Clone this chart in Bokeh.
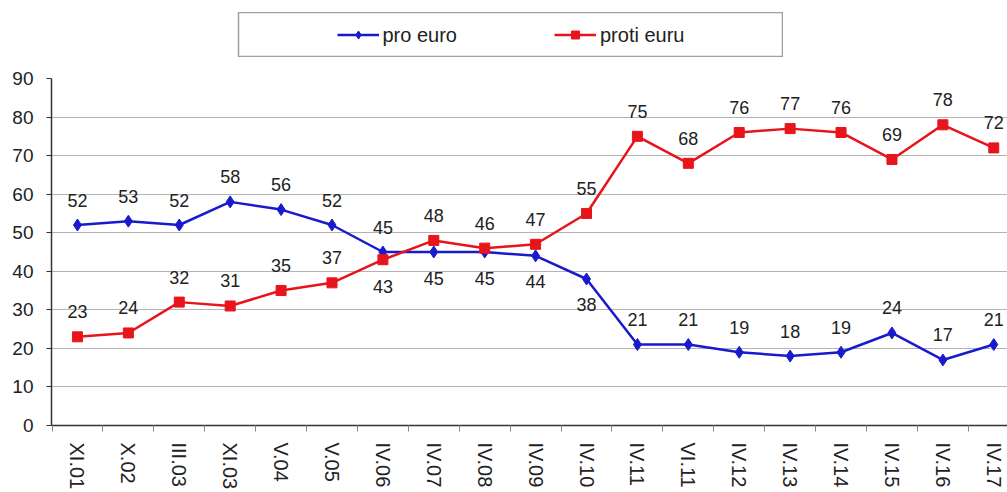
from bokeh.plotting import figure
from bokeh.layouts import column
from bokeh.models import (Range1d, FixedTicker, Legend, LegendItem, ColumnDataSource)
from bokeh.core.properties import value
from bokeh.embed import file_html
from bokeh.resources import INLINE

categories = ["XI.01", "X.02", "III.03", "XI.03", "V.04", "V.05", "IV.06", "IV.07",
              "IV.08", "IV.09", "IV.10", "IV.11", "VI.11", "IV.12", "IV.13", "IV.14",
              "IV.15", "IV.16", "IV.17"]
pro_euro = [52, 53, 52, 58, 56, 52, 45, 45, 45, 44, 38, 21, 21, 19, 18, 19, 24, 17, 21]
proti_euru = [23, 24, 32, 31, 35, 37, 43, 48, 46, 47, 55, 75, 68, 76, 77, 76, 69, 78, 72]
y_ticks = [0, 10, 20, 30, 40, 50, 60, 70, 80, 90]
series_names = ["pro euro", "proti euru"]

BLUE = "#1a1acd"
RED = "#e8141c"
FONT = "Liberation Sans"

xs = list(range(len(categories)))
blue_below = {7, 8, 9, 10}
red_below = {6}

src_b = ColumnDataSource(dict(
    x=xs, y=pro_euro, t=[str(v) for v in pro_euro],
    off=[26 if i in blue_below else -25 for i in xs]))
src_r = ColumnDataSource(dict(
    x=xs, y=proti_euru, t=[str(v) for v in proti_euru],
    off=[27 if i in red_below else -25 for i in xs]))

p = figure(width=1007, height=427, output_backend="svg", toolbar_location=None,
           x_range=Range1d(-0.51, 18.27), y_range=Range1d(0, 90),
           min_border_left=51, min_border_right=0, min_border_top=13,
           min_border_bottom=65)
p.outline_line_color = None
p.xgrid.visible = False
p.ygrid.ticker = FixedTicker(ticks=y_ticks)
p.ygrid.grid_line_color = "#b3b3b3"
p.ygrid.grid_line_width = 1.2

# y axis
p.yaxis.ticker = FixedTicker(ticks=y_ticks)
p.yaxis.axis_line_color = "#333333"
p.yaxis.axis_line_width = 1.5
p.yaxis.major_tick_line_color = "#333333"
p.yaxis.major_tick_out = 5
p.yaxis.major_tick_in = 0
p.yaxis.minor_tick_line_color = None
p.yaxis.major_label_text_font = FONT
p.yaxis.major_label_text_font_size = "19px"
p.yaxis.major_label_text_color = "#222222"
p.yaxis.major_label_standoff = 13

# x axis
p.xaxis.ticker = FixedTicker(ticks=xs, minor_ticks=[i - 0.5 for i in range(len(categories) + 1)])
p.xaxis.major_label_overrides = {i: c for i, c in enumerate(categories)}
p.xaxis.major_label_orientation = "vertical"
p.xaxis.axis_line_color = "#333333"
p.xaxis.axis_line_width = 1.5
p.xaxis.major_tick_line_color = None
p.xaxis.major_tick_out = 0
p.xaxis.major_tick_in = 0
p.xaxis.minor_tick_line_color = "#888888"
p.xaxis.minor_tick_out = 6
p.xaxis.minor_tick_in = 0
p.xaxis.major_label_text_font = FONT
p.xaxis.major_label_text_font_size = "20px"
p.xaxis.major_label_text_color = "#222222"
p.xaxis.major_label_standoff = 11

p.line("x", "y", source=src_b, line_color=BLUE, line_width=2.5)
p.scatter("x", "y", source=src_b, marker="diamond", size=12,
          fill_color=BLUE, line_color=BLUE)
p.line("x", "y", source=src_r, line_color=RED, line_width=2.5)
p.scatter("x", "y", source=src_r, marker="square", size=10,
          fill_color=RED, line_color=RED)

for s in (src_b, src_r):
    p.text("x", "y", text="t", source=s, y_offset="off", text_align="center",
           text_baseline="middle", text_font=value(FONT), text_font_size="18px",
           text_color="#222222")

# legend panel (boxed), placed above the chart; its ranges keep the series out of view
lg = figure(width=596, height=45, output_backend="svg", toolbar_location=None,
            x_axis_location=None, y_axis_location=None,
            x_range=Range1d(1000, 1001), y_range=Range1d(1000, 1001),
            min_border=0, min_border_right=0,
            min_border_top=0, min_border_bottom=0)
lg.margin = (12, 0, 8, 187)
lg.xgrid.visible = False
lg.ygrid.visible = False
lg.outline_line_color = "#a0a0a0"
lg.outline_line_width = 1.5
lb1 = lg.line("x", "y", source=src_b, line_color=BLUE, line_width=2.5)
lb2 = lg.scatter("x", "y", source=src_b, marker="diamond", size=12,
                 fill_color=BLUE, line_color=BLUE)
lr1 = lg.line("x", "y", source=src_r, line_color=RED, line_width=2.5)
lr2 = lg.scatter("x", "y", source=src_r, marker="square", size=10,
                 fill_color=RED, line_color=RED)
legend = Legend(items=[LegendItem(label=series_names[0], renderers=[lb1, lb2]),
                       LegendItem(label=series_names[1], renderers=[lr1, lr2])],
                orientation="horizontal", location="center", padding=0, margin=0,
                spacing=97, glyph_width=42, glyph_height=20, label_standoff=4,
                label_text_font=FONT, label_text_font_size="20px",
                label_text_color="#222222", border_line_color=None,
                background_fill_alpha=0)
lg.add_layout(legend)

layout = column(lg, p, spacing=0)
open("out.html", "w").write(file_html(layout, INLINE))
